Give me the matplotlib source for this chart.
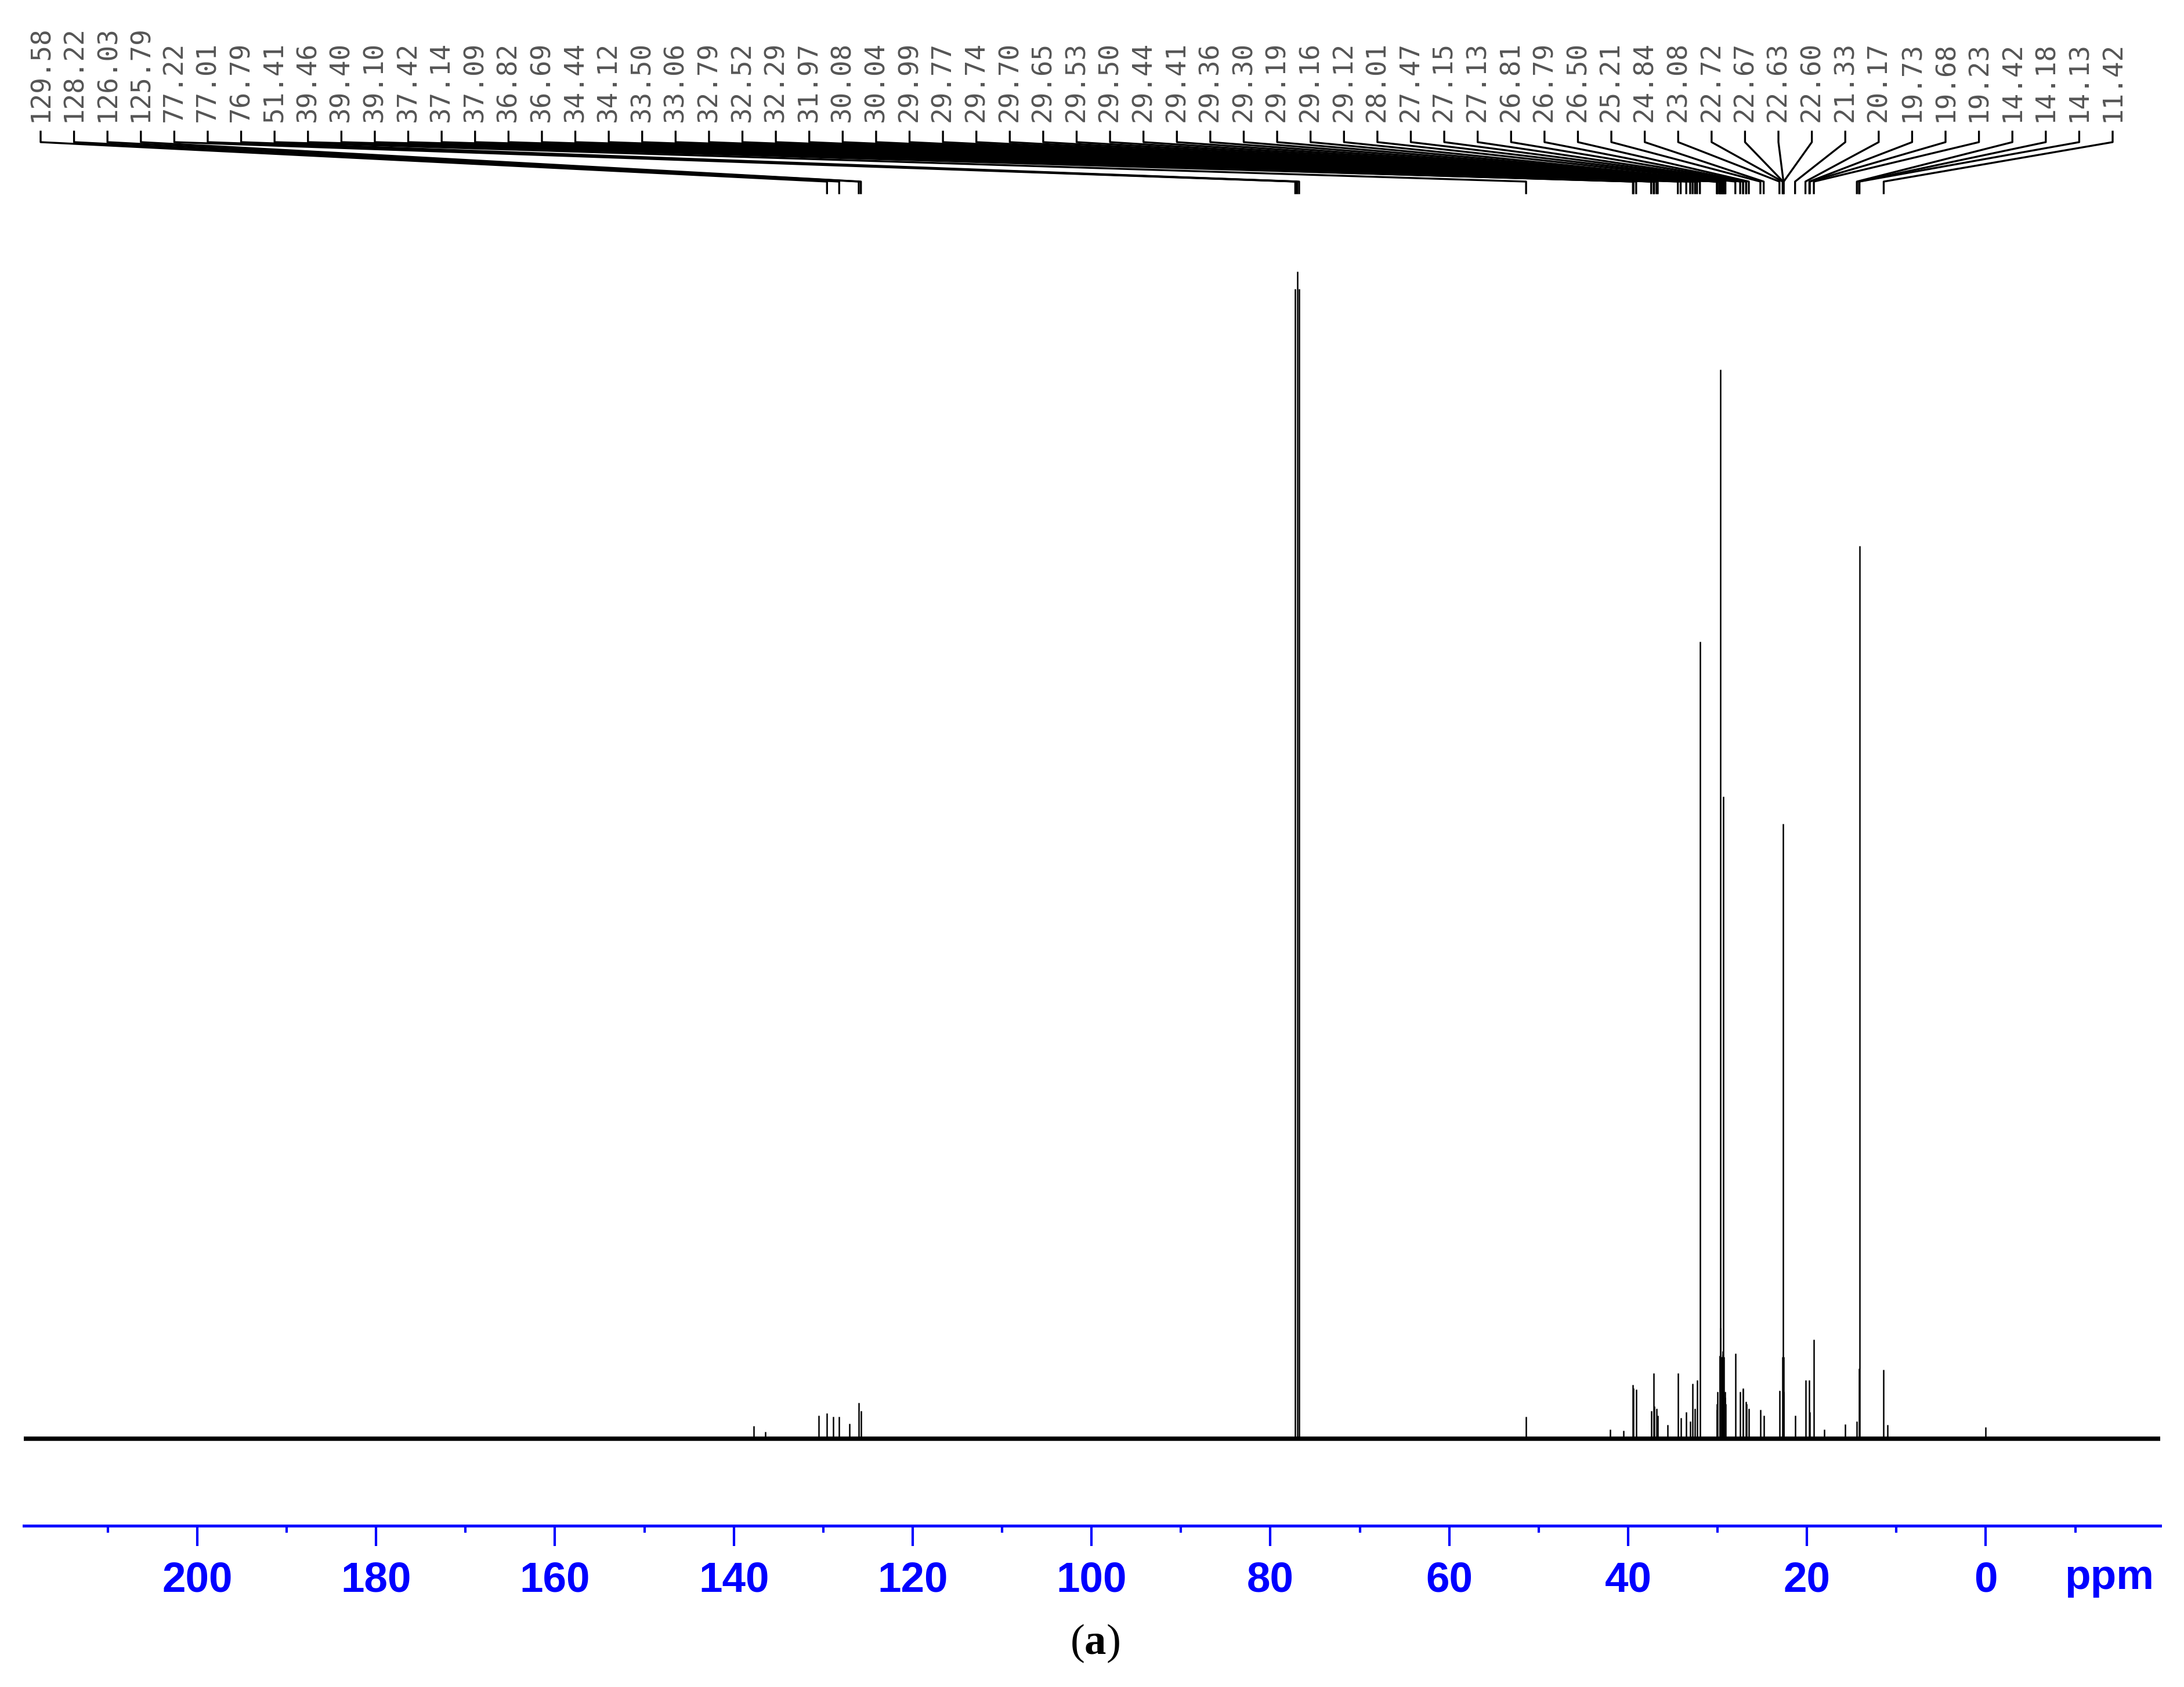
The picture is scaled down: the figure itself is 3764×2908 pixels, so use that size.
import numpy as np
import matplotlib.pyplot as plt

plt.rcParams['mathtext.fontset'] = 'custom'
plt.rcParams['mathtext.rm'] = 'Liberation Serif'
plt.rcParams['mathtext.bf'] = 'Liberation Serif:bold'

# peak labels printed on top of the spectrum (ppm)
labels = ["129.58", "128.22", "126.03", "125.79", "77.22", "77.01", "76.79",
          "51.41", "39.46", "39.40", "39.10", "37.42", "37.14", "37.09",
          "36.82", "36.69", "34.44", "34.12", "33.50", "33.06", "32.79",
          "32.52", "32.29", "31.97", "30.08", "30.04", "29.99", "29.77",
          "29.74", "29.70", "29.65", "29.53", "29.50", "29.44", "29.41",
          "29.36", "29.30", "29.19", "29.16", "29.12", "28.01", "27.47",
          "27.15", "27.13", "26.81", "26.79", "26.50", "25.21", "24.84",
          "23.08", "22.72", "22.67", "22.63", "22.60", "21.33", "20.17",
          "19.73", "19.68", "19.23", "14.42", "14.18", "14.13", "11.42"]

# spectrum lines (ppm, relative height, CDCl3 centre = 100)
peak_ppm = [137.8, 136.5, 130.5, 129.58, 128.9, 128.22, 127.1, 126.03, 125.79,
            77.22, 77.01, 76.79, 51.41, 42.0, 40.5, 39.46, 39.40, 39.10,
            37.42, 37.14, 37.09, 36.82, 36.69, 35.6, 34.44, 34.12, 33.50,
            33.06, 32.79, 32.52, 32.29, 31.97, 30.08, 30.04, 29.99, 29.77,
            29.74, 29.70, 29.65, 29.53, 29.50, 29.44, 29.41, 29.36, 29.30,
            29.19, 29.16, 29.12, 28.01, 27.47, 27.15, 27.13, 26.81, 26.79,
            26.50, 25.21, 24.84, 23.08, 22.72, 22.67, 22.63, 22.60, 21.33,
            20.17, 19.73, 19.68, 19.23, 18.05, 15.7, 14.42, 14.18, 14.13,
            11.42, 11.0, 0.0]
peak_h = [1.1, 0.6, 2.0, 2.2, 1.9, 1.9, 1.3, 3.1, 2.4,
          98.5, 100, 98.5, 1.9, 0.8, 0.7, 4.6, 4.3, 4.2,
          2.4, 5.6, 2.8, 2.6, 2.0, 1.2, 5.6, 1.8, 2.3,
          1.5, 4.7, 2.6, 5.0, 68.3, 2.5, 3.0, 4.0, 7.1,
          7.1, 91.6, 9.5, 7.0, 7.0, 7.2, 7.5, 55.0, 7.0,
          4.0, 3.5, 3.0, 7.3, 4.0, 4.3, 4.2, 3.2, 3.0,
          2.6, 2.5, 2.0, 4.1, 7.0, 52.7, 7.0, 4.0, 2.0,
          5.0, 5.0, 2.3, 8.5, 0.8, 1.25, 1.5, 6.0, 76.5,
          5.9, 1.2, 1.0]

major_ticks = [200, 180, 160, 140, 120, 100, 80, 60, 40, 20, 0]
minor_ticks = [210, 190, 170, 150, 130, 110, 90, 70, 50, 30, 10, -10]

W, H = 3764, 2908
fig = plt.figure(figsize=(W / 300, H / 300), dpi=300)
ax = fig.add_axes([41 / W, 1 - 2630 / H, 3682 / W, 2630 / H])
ax.set_xlim(219.4, -19.5)
ax.set_ylim(-7.46, 123.26)

ax.axhline(0, color='k', lw=1.8)
ax.vlines(peak_ppm, 0, peak_h, color='k', lw=0.6)

blue = '#0000ff'
for s in ['top', 'left', 'right']:
    ax.spines[s].set_visible(False)
ax.spines['bottom'].set_color(blue)
ax.spines['bottom'].set_linewidth(1.2)
ax.set_yticks([])
ax.set_xticks(major_ticks)
ax.set_xticks(minor_ticks, minor=True)
ax.tick_params(axis='x', which='major', length=8.4, width=1.0, color=blue,
               labelcolor=blue, pad=6)
ax.tick_params(axis='x', which='minor', length=2.9, width=1.0, color=blue)
for t in ax.get_xticklabels():
    t.set_fontfamily('Liberation Sans')
    t.set_fontweight('bold')
    t.set_fontsize(17.5)

fig.text(3635 / W, 1 - 2720 / H, "ppm", color=blue, fontsize=17.5,
         fontweight='bold', family='Liberation Sans', ha='center', va='center')

# peak labels with leader lines
inv = fig.transFigure.inverted()
lab_x = np.linspace(70, 3641, len(labels)) / W
y_lab = 1 - 210 / H
y1, y2, y3, y4 = [1 - v / H for v in (227, 245, 313, 333)]
for lx, lab in zip(lab_x, labels):
    px = ax.transData.transform((float(lab), 0))
    fx = inv.transform(px)[0]
    fig.text(lx, y_lab, lab, rotation=90, ha='center', va='bottom',
             family='DejaVu Sans Mono', fontsize=11, color='#555555')
    ax.plot([lx, lx, fx, fx], [y1, y2, y3, y4], color='k', lw=0.8,
            transform=fig.transFigure, clip_on=False)

fig.text(1887 / W, 1 - 2833 / H, r"($\mathbf{a}$)", family='Liberation Serif',
         fontsize=18, ha='center', va='center')

fig.savefig("out.png", dpi=300, facecolor='white')
